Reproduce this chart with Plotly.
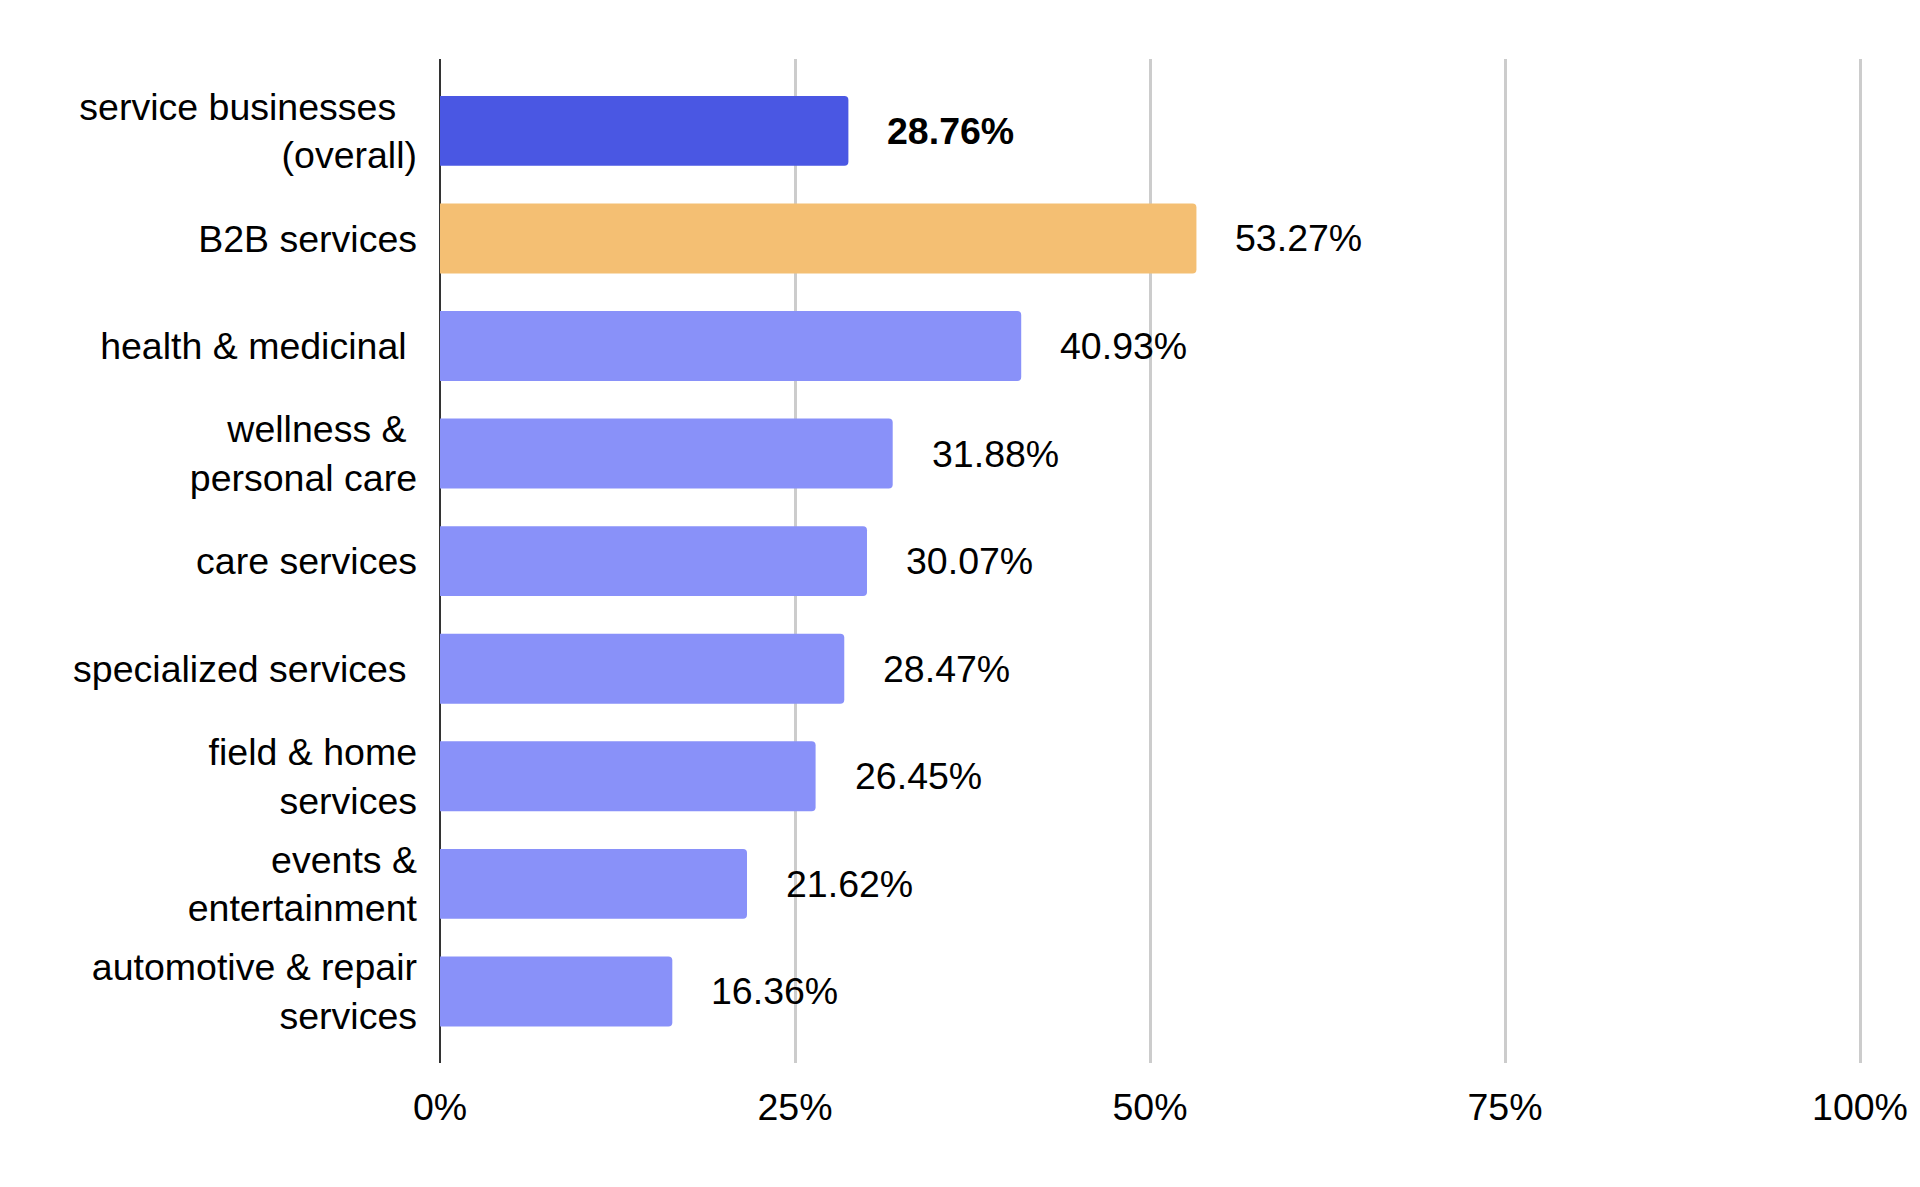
import plotly.graph_objects as go

categories = [
    "service businesses\u00a0\u00a0<br>(overall)",
    "B2B services",
    "health & medicinal\u00a0",
    "wellness &\u00a0<br>personal care",
    "care services",
    "specialized services\u00a0",
    "field & home<br>services",
    "events &<br>entertainment",
    "automotive & repair<br>services",
]
values = [0.2876, 0.5327, 0.4093, 0.3188, 0.3007, 0.2847, 0.2645, 0.2162, 0.1636]
value_labels = ["28.76%", "53.27%", "40.93%", "31.88%", "30.07%", "28.47%", "26.45%", "21.62%", "16.36%"]
bar_colors = ["#4A57E3", "#F4BF73", "#8991F9", "#8991F9", "#8991F9", "#8991F9", "#8991F9", "#8991F9", "#8991F9"]
label_bold = [True, False, False, False, False, False, False, False, False]
x_tickvals = [0, 0.25, 0.5, 0.75, 1.0]
x_ticktext = ["0%", "25%", "50%", "75%", "100%"]

FONT = "Liberation Sans, Arial, sans-serif"
FS = 37.5

fig = go.Figure()
fig.add_trace(go.Bar(
    y=list(range(len(categories))),
    x=values,
    orientation="h",
    width=0.65,
    marker=dict(color=bar_colors, line=dict(width=0), cornerradius=4),
    hoverinfo="skip",
))

for i, (v, lab, b) in enumerate(zip(values, value_labels, label_bold)):
    fig.add_annotation(
        x=v, y=i, xref="x", yref="y",
        text=f"<b>{lab}</b>" if b else lab,
        showarrow=False, xanchor="left", yanchor="middle",
        xshift=37,
        font=dict(family=FONT, size=FS, color="#000000"),
    )

fig.update_layout(
    width=1920, height=1187,
    margin=dict(l=440, r=56, t=59, b=124, pad=0),
    paper_bgcolor="white", plot_bgcolor="white",
    showlegend=False,
    font=dict(family=FONT, size=FS, color="#000000"),
    bargap=0.35,
)
fig.update_xaxes(
    range=[0, 1424 / 1420],
    tickvals=x_tickvals, ticktext=x_ticktext,
    showgrid=True, gridcolor="#cccccc", gridwidth=3,
    zeroline=True, zerolinecolor="#333333", zerolinewidth=2,
    showline=False, ticks="",
    ticklabelstandoff=18,
    automargin=False,
    tickfont=dict(family=FONT, size=FS, color="#000000"),
)
fig.update_yaxes(
    range=[8.665, -0.668],
    tickvals=list(range(len(categories))), ticktext=categories,
    showgrid=False, zeroline=False, showline=False, ticks="",
    ticklabelstandoff=22,
    automargin=False,
    tickfont=dict(family=FONT, size=FS, color="#000000"),
)

fig.write_html("out.html", config={"displayModeBar": False, "staticPlot": True})

with open("out.html", "r", encoding="utf-8") as f:
    html = f.read()
html = html.replace("<head>", "<head><style>html,body{margin:0;padding:0;overflow:hidden;}</style>", 1)
with open("out.html", "w", encoding="utf-8") as f:
    f.write(html)
